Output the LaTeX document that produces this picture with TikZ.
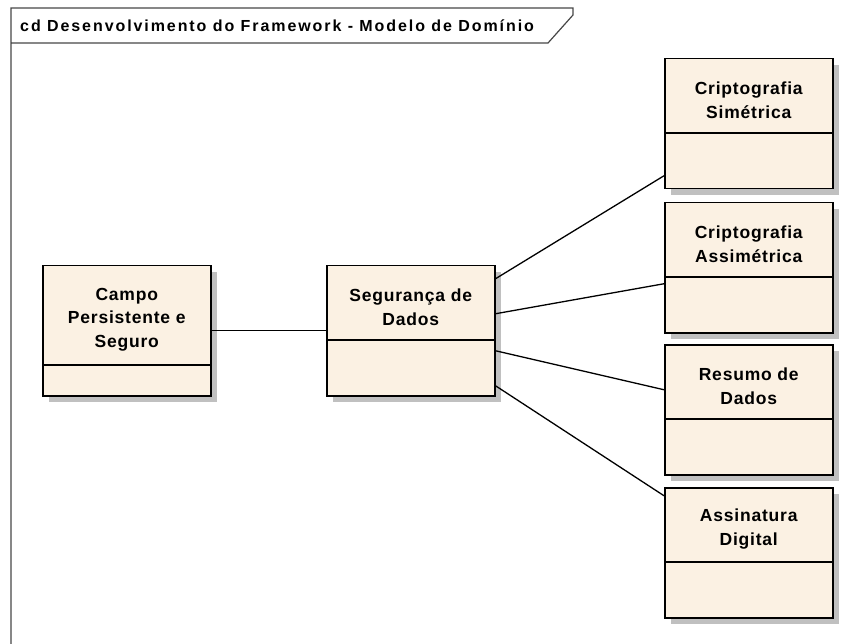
\documentclass[tikz,border=0pt]{standalone}
\usepackage{fontspec}
\setmainfont{Liberation Sans}
\newfontfamily\classfont[LetterSpace=4.5]{Liberation Sans}
\newfontfamily\framefont[LetterSpace=12]{Liberation Sans}
\usetikzlibrary{shadows}

\definecolor{classfill}{RGB}{251,241,227}
\definecolor{shadowgray}{RGB}{192,192,192}
\definecolor{framegray}{RGB}{70,70,70}

\tikzset{
  classbox/.style={draw=black, line width=1.5pt, fill=classfill,
    minimum width=168pt, minimum height=130pt, anchor=north west, inner sep=0pt,
    drop shadow={shadow xshift=6pt, shadow yshift=-6pt, fill=shadowgray, opacity=1}},
  classname/.style={align=center, inner sep=0pt,
    font=\classfont\bfseries\fontsize{17.5}{23.5}\selectfont},
  divider/.style={draw=black, line width=1.5pt},
  assoc/.style={draw=black, line width=1.3pt},
  frameline/.style={draw=framegray, line width=1.2pt},
  framelabel/.style={anchor=base west, inner sep=0pt,
    font=\framefont\bfseries\fontsize{16}{19}\selectfont},
}

% #1 name, #2 left, #3 top, #4 height of the name compartment, #5 class name
\newcommand\umlclass[5]{%
  \node[classbox] (#1) at (#2,#3) {};
  \draw[divider] ([yshift=-#4pt]#1.north west) -- ([yshift=-#4pt]#1.north east);
  \node[classname] (#1-name) at ([yshift=-#4pt/2-4.5pt]#1.north) {#5};
}

\begin{document}
\begin{tikzpicture}[x=1pt, y=-1pt]
  \useasboundingbox (0,0) rectangle (854,644);

  % diagram frame with its name tab
  \draw[frameline] (11,644) -- (11,8) -- (573,8) -- (573,15) -- (548,43) -- (11,43);
  \node[framelabel] (title) at (20,32) {cd Desenvolvimento do Framework - Modelo de Domínio};

  % classes
  \umlclass{campo}{42}{265}{100}{Campo\\Persistente e\\Seguro}
  \umlclass{seg}{326}{265}{75}{Segurança de\\Dados}
  \umlclass{csim}{664}{58}{75}{Criptografia\\Simétrica}
  \umlclass{cass}{664}{202}{75}{Criptografia\\Assimétrica}
  \umlclass{resumo}{664}{344}{75}{Resumo de\\Dados}
  \umlclass{assin}{664}{487}{75}{Assinatura\\Digital}

  % associations
  \draw[assoc] (campo.east) -- (seg.west);
  \draw[assoc] ([yshift=52pt]seg.east) -- ([yshift=-52pt]csim.west);
  \draw[assoc] ([yshift=17pt]seg.east) -- ([yshift=-16pt]cass.west);
  \draw[assoc] ([yshift=-20pt]seg.east) -- ([yshift=20pt]resumo.west);
  \draw[assoc] ([yshift=-55pt]seg.east) -- ([yshift=57pt]assin.west);
\end{tikzpicture}
\end{document}
